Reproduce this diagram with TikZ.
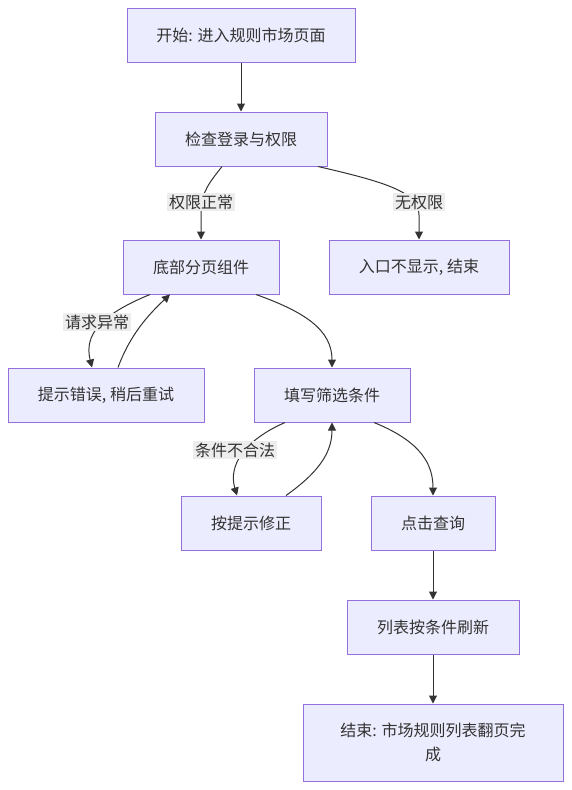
\documentclass[tikz,border=0pt]{standalone}
\usepackage{fontspec}
\setmainfont{Noto Sans CJK SC}
\usetikzlibrary{arrows.meta}
\definecolor{boxfill}{HTML}{ECECFF}
\definecolor{boxline}{HTML}{9370DB}
\definecolor{inkgray}{HTML}{333333}
\definecolor{lblfill}{HTML}{EDEDED}
\begin{document}
\begin{tikzpicture}[x=1pt,y=1pt,
    stepbox/.style={draw=boxline,fill=boxfill,line width=1pt,text=inkgray,
      minimum height=54pt,inner sep=0pt,align=center,
      font=\fontsize{16}{24}\selectfont},
    lbl/.style={fill=lblfill,text=inkgray,inner sep=2pt,
      font=\fontsize{16}{20}\selectfont},
    flow/.style={draw=inkgray,line width=1pt,
      -{Triangle[length=8pt,width=8pt]}}]
  \useasboundingbox (0,0) rectangle (571,-790);
  % boxes
  \node[stepbox,minimum width=228pt] (start) at (241,-35) {开始: 进入规则市场页面};
  \node[stepbox,minimum width=172pt] (check) at (241,-139) {检查登录与权限};
  \node[stepbox,minimum width=156pt] (pager) at (201,-267) {底部分页组件};
  \node[stepbox,minimum width=180pt] (noentry) at (419,-267) {入口不显示, 结束};
  \node[stepbox,minimum width=196pt] (errtip) at (106,-395) {提示错误, 稍后重试};
  \node[stepbox,minimum width=156pt] (filter) at (332,-395) {填写筛选条件};
  \node[stepbox,minimum width=140pt] (fix) at (251,-523) {按提示修正};
  \node[stepbox,minimum width=124pt] (query) at (433,-523) {点击查询};
  \node[stepbox,minimum width=172pt] (refresh) at (433,-627) {列表按条件刷新};
  \node[stepbox,minimum width=260pt,minimum height=77pt] (finish) at (433,-742.5)
    {结束: 市场规则列表翻页完\\成};
  % connectors
  \draw[flow] (start) -- (check);
  \draw[flow] ([xshift=-19pt]check.south) .. controls (210,-182) and (201,-192) .. (201,-212) -- (pager.north);
  \draw[flow] ([xshift=77pt]check.south) .. controls (385,-182) and (419,-192) .. (419,-215) -- (noentry.north);
  \draw[flow] ([xshift=-51pt]pager.south) .. controls (100,-315) and (84,-335) .. ([xshift=-14pt]errtip.north);
  \draw[flow] ([xshift=12pt]errtip.north) .. controls (130,-335) and (148,-315) .. ([xshift=-31pt]pager.south);
  \draw[flow] ([xshift=55pt]pager.south) .. controls (305,-312) and (332,-330) .. (filter.north);
  \draw[flow] ([xshift=-47pt]filter.south) .. controls (245,-440) and (228,-465) .. ([xshift=-14pt]fix.north);
  \draw[flow] ([xshift=35pt]fix.north) .. controls (322,-470) and (332,-450) .. (filter.south);
  \draw[flow] ([xshift=42pt]filter.south) .. controls (422,-442) and (433,-465) .. (query.north);
  \draw[flow] (query) -- (refresh);
  \draw[flow] (refresh) -- (finish);
  % labels
  \node[lbl] (okperm) at (201,-202) {权限正常};
  \node[lbl] (noperm) at (419,-202) {无权限};
  \node[lbl] (reqfail) at (97,-322) {请求异常};
  \node[lbl] (badcond) at (235,-450) {条件不合法};
\end{tikzpicture}
\end{document}
